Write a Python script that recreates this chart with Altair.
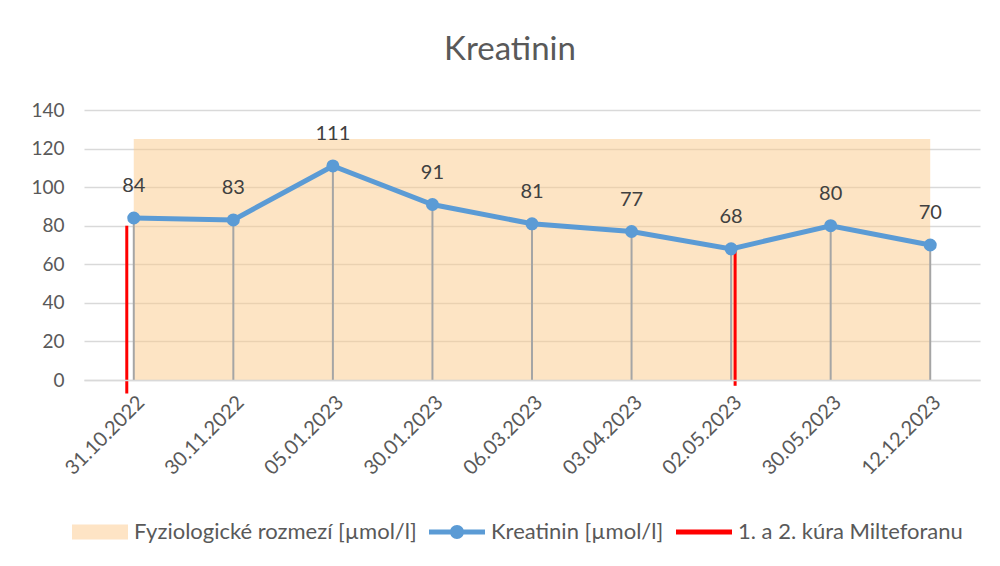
import altair as alt
import pandas as pd

dates = ["31.10.2022", "30.11.2022", "05.01.2023", "30.01.2023", "06.03.2023",
         "03.04.2023", "02.05.2023", "30.05.2023", "12.12.2023"]
kreatinin = [84, 83, 111, 91, 81, 77, 68, 80, 70]

range_low = [0]
range_high = [125]

cure_dates = ["31.10.2022", "02.05.2023"]
cure_top = [80, 67]
cure_bottom = [-7, -3]

legend_names = ["Fyziologické rozmezí [µmol/l]", "Kreatinin [µmol/l]", "1. a 2. kúra Milteforanu"]
legend_colors = ["#FEE4C5", "#5B9BD5", "#FF0000"]

FONT = "Lato"
GREY_TXT = "#595959"

df = pd.DataFrame({"date": dates, "value": kreatinin, "zero": [0] * len(dates)})
band_df = pd.DataFrame({"start": [dates[0]], "end": [dates[-1]], "lo": range_low, "hi": range_high})
cure_df = pd.DataFrame({"date": cure_dates, "top": cure_top, "bottom": cure_bottom})
leg_df = pd.DataFrame({"name": legend_names, "date": [dates[0]] * 3, "y": [-1000] * 3})

xscale = alt.Scale(type="point", padding=0.5, domain=dates)
yscale = alt.Scale(domain=[0, 140])

x_axis = alt.Axis(title=None, labelAngle=-45, labelFontSize=20, labelFont=FONT,
                  labelColor=GREY_TXT, ticks=False, grid=False, domainColor="#D9D9D9",
                  domainWidth=1.5, labelPadding=12)
y_axis = alt.Axis(title=None, values=list(range(0, 141, 20)), labelFontSize=19, labelFont=FONT,
                  labelColor=GREY_TXT, ticks=False, domain=False, gridColor="#D9D9D9",
                  gridWidth=1.5, labelPadding=20)

base_x = alt.X("date:N", scale=xscale, axis=x_axis)

band = alt.Chart(band_df).mark_rect(color="#FCC98A", opacity=0.5).encode(
    x=alt.X("start:N", scale=xscale, axis=x_axis),
    x2="end:N",
    y=alt.Y("lo:Q", scale=yscale, axis=y_axis),
    y2="hi:Q",
)

drops = alt.Chart(df).mark_rule(color="#A5A5A5", strokeWidth=2).encode(
    x=base_x,
    y=alt.Y("zero:Q", scale=yscale, axis=y_axis),
    y2="value:Q",
)

cure1 = alt.Chart(cure_df.iloc[[0]]).mark_rule(color="#FF0000", strokeWidth=3, xOffset=-7).encode(
    x=alt.X("date:N", scale=xscale, axis=x_axis),
    y=alt.Y("bottom:Q", scale=yscale, axis=y_axis),
    y2="top:Q",
)
cure2 = alt.Chart(cure_df.iloc[[1]]).mark_rule(color="#FF0000", strokeWidth=3, xOffset=4).encode(
    x=alt.X("date:N", scale=xscale, axis=x_axis),
    y=alt.Y("bottom:Q", scale=yscale, axis=y_axis),
    y2="top:Q",
)

line = alt.Chart(df).mark_line(color="#5B9BD5", strokeWidth=5).encode(
    x=base_x,
    y=alt.Y("value:Q", scale=yscale, axis=y_axis),
)
pts = alt.Chart(df).mark_circle(color="#5B9BD5", size=170, opacity=1).encode(
    x=base_x,
    y=alt.Y("value:Q", scale=yscale, axis=y_axis),
)
labels = alt.Chart(df).mark_text(dy=-32, fontSize=20, font=FONT, color="#404040").encode(
    x=base_x,
    y=alt.Y("value:Q", scale=yscale, axis=y_axis),
    text="value:Q",
)

W = 56
legend_paths = [
    "M-1,-0.27H1V0.27H-1Z",
    "M-1,-0.09H-0.2V0.09H-1Z M0.2,-0.09H1V0.09H0.2Z M-0.25,0A0.25,0.25 0 1,1 0.25,0A0.25,0.25 0 1,1 -0.25,0Z",
    "M-1,-0.09H1V0.09H-1Z",
]
leg_props = dict(orient="none", legendX=-12, legendY=394, direction="horizontal", title=None,
                 symbolSize=W * W, labelFontSize=22, labelFont=FONT, labelColor=GREY_TXT,
                 columnPadding=12, labelOffset=6, symbolStrokeWidth=0, padding=0, labelLimit=0)
dummy = alt.Chart(leg_df).mark_point(filled=True, opacity=1, clip=True).encode(
    x=alt.X("date:N", scale=xscale, axis=x_axis),
    y=alt.Y("y:Q", scale=yscale, axis=y_axis),
    color=alt.Color("name:N", scale=alt.Scale(domain=legend_names, range=legend_colors),
                    legend=alt.Legend(**leg_props)),
    shape=alt.Shape("name:N", scale=alt.Scale(domain=legend_names, range=legend_paths),
                    legend=alt.Legend(**leg_props)),
)

chart = alt.layer(band, drops, cure1, cure2, line, pts, labels, dummy).properties(
    width=896,
    height=270,
    padding={"left": 76, "top": 102, "right": 12, "bottom": 170},
    autosize=alt.AutoSizeParams(type="none"),
    title=alt.TitleParams("Kreatinin", fontSize=33, font=FONT, color=GREY_TXT,
                          fontWeight="normal", offset=34, dx=-22, anchor="middle"),
).configure_view(stroke=None)

chart.save("out.html", embed_options={"renderer": "svg", "actions": False})
